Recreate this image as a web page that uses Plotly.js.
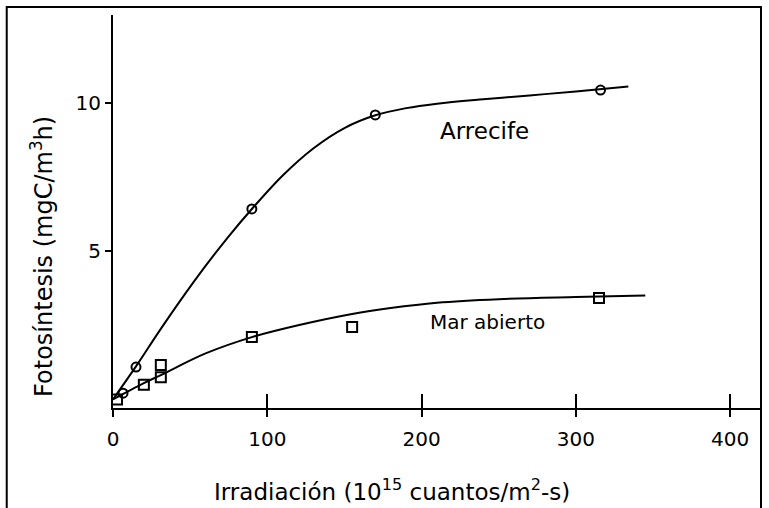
<!DOCTYPE html>
<html>
<head>
<meta charset="utf-8">
<script src="https://cdn.plot.ly/plotly-3.0.1.min.js"></script>
<style>html,body{margin:0;padding:0;background:#fff;}#chart{width:769px;height:508px;}</style>
</head>
<body>
<div id="chart"></div>
<script>
// Measured points
const arrecifeX = [6.5, 14.9, 90, 170, 316];
const arrecifeY = [0.21, 1.09, 6.42, 9.59, 10.43];
const marX = [2.6, 20, 31, 31, 90, 155, 315];
const marY = [0.0, 0.49, 0.75, 1.16, 2.1, 2.44, 3.42];
// Fitted curves
const arrecifeCurveX = [0, 15, 30, 45, 60, 75, 90, 110, 130, 150, 170, 190, 210, 240, 270, 300, 334];
const arrecifeCurveY = [0, 1.12, 2.3, 3.43, 4.5, 5.5, 6.42, 7.55, 8.47, 9.15, 9.58, 9.82, 9.97, 10.12, 10.25, 10.38, 10.55];
const marCurveX = [0, 20, 31, 60, 90, 120, 155, 180, 210, 250, 300, 345];
const marCurveY = [0, 0.55, 0.82, 1.55, 2.1, 2.5, 2.88, 3.08, 3.26, 3.38, 3.45, 3.5];
const xTicks = [0, 100, 200, 300, 400];
const yTicks = [5, 10];
const xTitle = 'Irradiación (10<sup>15</sup> cuantos/m<sup>2</sup>-s)';
const yTitle = 'Fotosíntesis (mgC/m<sup>3</sup>h)';
const seriesLabels = ['Arrecife', 'Mar abierto'];

const FONT = 'DejaVu Sans, Verdana, sans-serif';

const traces = [
  {x: arrecifeCurveX, y: arrecifeCurveY, mode: 'lines', line: {color: '#000', width: 2, shape: 'spline', smoothing: 1}, hoverinfo: 'skip'},
  {x: marCurveX, y: marCurveY, mode: 'lines', line: {color: '#000', width: 2, shape: 'spline', smoothing: 1}, hoverinfo: 'skip'},
  {x: arrecifeX, y: arrecifeY, mode: 'markers', xaxis: 'x2', name: seriesLabels[0],
   marker: {symbol: 'circle-open', size: 9, color: '#000', line: {width: 2, color: '#000'}}},
  {x: marX, y: marY, mode: 'markers', name: seriesLabels[1],
   marker: {symbol: 'square-open', size: 10, color: '#000', line: {width: 2, color: '#000'}}}
];

const layout = {
  width: 769, height: 508,
  margin: {l: 113, r: 8, t: 15, b: 100},
  paper_bgcolor: '#fff', plot_bgcolor: '#fff',
  showlegend: false,
  font: {family: FONT, color: '#000', size: 18},
  xaxis: {
    range: [0, 420], showgrid: false, zeroline: false,
    showline: true, linecolor: '#000', linewidth: 2,
    tickvals: xTicks, ticktext: xTicks.map(String),
    ticks: 'outside', ticklen: 7, tickwidth: 2, tickcolor: '#000',
    ticklabelstandoff: 5,
    tickfont: {family: FONT, size: 20, color: '#000'}
  },
  xaxis2: {
    overlaying: 'x', matches: 'x', range: [0, 420], showgrid: false, zeroline: false,
    showline: false, tickvals: [100, 200, 300, 400], showticklabels: false,
    ticks: 'inside', ticklen: 14, tickwidth: 2, tickcolor: '#000', anchor: 'y'
  },
  yaxis: {
    range: [-0.29, 12.96], showgrid: false, zeroline: false,
    showline: true, linecolor: '#000', linewidth: 2,
    tickvals: yTicks, ticktext: yTicks.map(String),
    ticks: 'outside', ticklen: 6, tickwidth: 2, tickcolor: '#000',
    tickfont: {family: FONT, size: 20, color: '#000'}
  },
  annotations: [
    {x: 241, y: 9.05, xref: 'x', yref: 'y', text: seriesLabels[0], showarrow: false, font: {family: FONT, size: 23, color: '#000'}},
    {x: 243, y: 2.6, xref: 'x', yref: 'y', text: seriesLabels[1], showarrow: false, font: {family: FONT, size: 20, color: '#000'}},
    {x: 0.4306, y: -0.2087, xref: 'paper', yref: 'paper', xanchor: 'center', yanchor: 'middle',
     text: xTitle, showarrow: false, font: {family: FONT, size: 23, color: '#000'}},
    {x: -0.1096, y: 0.387, xref: 'paper', yref: 'paper', xanchor: 'center', yanchor: 'middle', textangle: -90,
     text: yTitle, showarrow: false, font: {family: FONT, size: 24, color: '#000'}}
  ],
  shapes: [
    {type: 'rect', xref: 'paper', yref: 'paper', x0: -0.164, x1: 1.0, y0: -0.27, y1: 1.0204,
     line: {color: '#000', width: 2}, fillcolor: 'rgba(0,0,0,0)'}
  ]
};

Plotly.newPlot('chart', traces, layout, {staticPlot: true, displayModeBar: false});
</script>
</body>
</html>
